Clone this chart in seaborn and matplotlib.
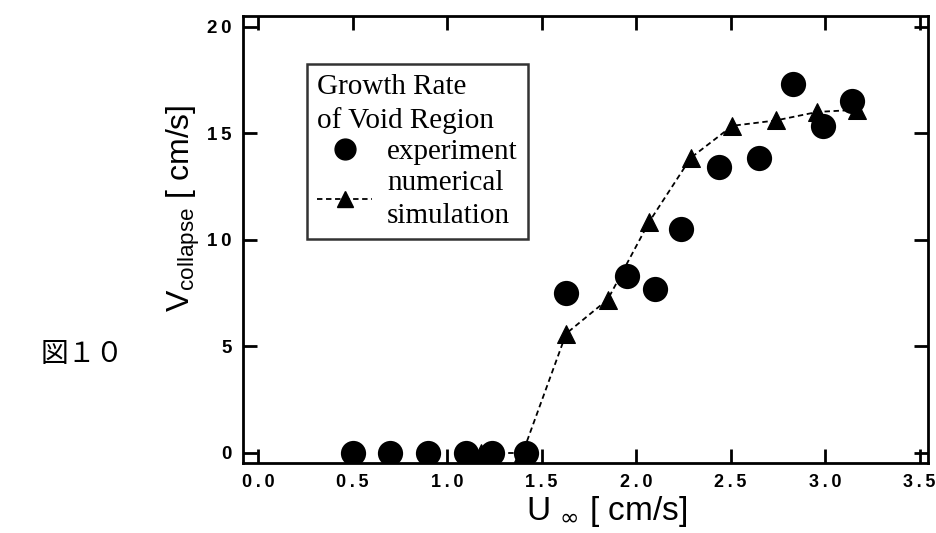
import matplotlib
matplotlib.use("Agg")
import matplotlib.pyplot as plt
import seaborn as sns
import pandas as pd
from matplotlib.lines import Line2D

# experiment (circles)
exp_x = [0.50, 0.70, 0.90, 1.10, 1.24, 1.42, 1.63, 1.95, 2.10, 2.24, 2.44, 2.65, 2.83, 2.99, 3.14]
exp_y = [0.0, 0.0, 0.0, 0.0, 0.0, 0.0, 7.5, 8.3, 7.7, 10.5, 13.4, 13.85, 17.3, 15.35, 16.5]

# numerical simulation (triangles)
num_x = [1.18, 1.40, 1.63, 1.85, 2.07, 2.29, 2.51, 2.74, 2.96, 3.17]
num_y = [0.0, 0.0, 5.6, 7.2, 10.85, 13.85, 15.35, 15.6, 16.0, 16.1]

x_ticks = [0.0, 0.5, 1.0, 1.5, 2.0, 2.5, 3.0, 3.5]
y_ticks = [0, 5, 10, 15, 20]

sns.set_theme(style="white")
plt.rcParams['font.family'] = ['Liberation Sans', 'DejaVu Sans']
plt.rcParams['text.color'] = 'black'
plt.rcParams['axes.labelcolor'] = 'black'
plt.rcParams['xtick.color'] = 'black'
plt.rcParams['ytick.color'] = 'black'

fig = plt.figure(figsize=(9.36, 5.33), dpi=100)
ax = fig.add_axes([0.2596, 0.1313, 0.7319, 0.8387])

df_exp = pd.DataFrame({"x": exp_x, "y": exp_y})
df_num = pd.DataFrame({"x": num_x, "y": num_y})

sns.lineplot(data=df_num, x="x", y="y", ax=ax, color="black", linestyle=(0, (3, 2)),
             linewidth=1.3, marker="^", markersize=13, markeredgecolor="black",
             markerfacecolor="black", zorder=2)
sns.scatterplot(data=df_exp, x="x", y="y", ax=ax, color="black", s=330,
                edgecolor="black", linewidth=0, zorder=3)

def spaced(s):
    return "\u2009".join(s)

ax.set_xlim(-0.08, 3.545)
ax.set_ylim(-0.47, 20.5)
ax.set_xticks(x_ticks)
ax.set_yticks(y_ticks)
ax.set_xticklabels([spaced(f"{v:.1f}") for v in x_ticks], fontsize=13, fontweight="bold")
ax.set_yticklabels([spaced(str(v)) for v in y_ticks], fontsize=13.5, fontweight="bold")
ax.tick_params(direction="in", length=10, width=2, top=True, right=True,
               bottom=True, left=True, labeltop=False, labelright=False, colors="black", pad=8)
for s in ax.spines.values():
    s.set_visible(True)
    s.set_linewidth(2)
    s.set_color("black")

ax.set_xlabel(r"U $_{\infty}$ [ cm/s]", fontsize=24, color="black")
ax.set_ylabel(r"V$_{\mathregular{collapse}}$ [ cm/s]", fontsize=23, color="black")
ax.xaxis.set_label_coords(0.531, -0.07)
ax.yaxis.set_label_coords(-0.06, 0.57)

handles = [
    Line2D([], [], color="black", marker="o", linestyle="none", markersize=15),
    Line2D([], [], color="black", marker="^", linestyle=(0, (3, 2)), linewidth=1.3, markersize=11),
]
leg = ax.legend(handles, ["experiment", "numerical\nsimulation"],
                title="Growth Rate\nof Void Region",
                loc="upper left", bbox_to_anchor=(0.093, 0.893),
                prop={"family": "Liberation Serif", "size": 21},
                title_fontproperties={"family": "Liberation Serif", "size": 21},
                frameon=True, fancybox=False, handlelength=1.9, handletextpad=0.5,
                borderpad=0.35, labelspacing=0.15, borderaxespad=0)
leg._legend_box.align = "left"
for t in leg.get_texts():
    t.set_linespacing(1.35)
leg.get_title().set_linespacing(1.35)
leg.get_frame().set_edgecolor("black")
leg.get_frame().set_linewidth(1.8)

fig.text(0.043, 0.335, "図１０", fontsize=20, family=["Noto Sans CJK JP", "DejaVu Sans"],
         va="center", ha="left", color="black")

fig.savefig("out.png", dpi=100)
